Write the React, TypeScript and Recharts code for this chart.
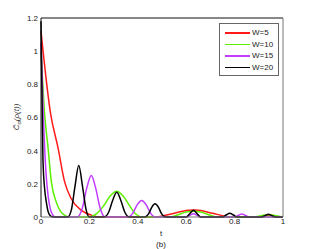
import { Line, LineChart, XAxis, YAxis } from 'recharts'

// ---- data (t, C value) ----
const xTicks = [0, 0.2, 0.4, 0.6, 0.8, 1]
const yTicks = [0, 0.2, 0.4, 0.6, 0.8, 1, 1.2]

const w5 = [
  { t: 0, v: 1.12 }, { t: 0.04, v: 0.62 }, { t: 0.07, v: 0.42 }, { t: 0.098, v: 0.21 },
  { t: 0.125, v: 0.11 }, { t: 0.167, v: 0.04 }, { t: 0.21, v: 0.01 }, { t: 0.25, v: 0 },
  { t: 0.48, v: 0 }, { t: 0.52, v: 0.012 }, { t: 0.61, v: 0.04 }, { t: 0.64, v: 0.042 },
  { t: 0.71, v: 0.022 }, { t: 0.75, v: 0.008 }, { t: 0.78, v: 0 }, { t: 0.9, v: 0 },
  { t: 0.94, v: 0.01 }, { t: 0.98, v: 0 }, { t: 1, v: 0 },
]

const w10 = [
  { t: 0, v: 1.0 }, { t: 0.015, v: 0.62 }, { t: 0.029, v: 0.42 }, { t: 0.043, v: 0.21 },
  { t: 0.063, v: 0.09 }, { t: 0.08, v: 0.035 }, { t: 0.1, v: 0.008 }, { t: 0.12, v: 0 },
  { t: 0.2, v: 0 }, { t: 0.23, v: 0.02 }, { t: 0.26, v: 0.07 }, { t: 0.285, v: 0.125 },
  { t: 0.313, v: 0.155 }, { t: 0.34, v: 0.125 }, { t: 0.365, v: 0.07 }, { t: 0.39, v: 0.02 },
  { t: 0.42, v: 0 }, { t: 0.53, v: 0 }, { t: 0.56, v: 0.01 }, { t: 0.6, v: 0.03 },
  { t: 0.63, v: 0.035 }, { t: 0.66, v: 0.03 }, { t: 0.7, v: 0.01 }, { t: 0.73, v: 0 },
  { t: 0.88, v: 0 }, { t: 0.91, v: 0.008 }, { t: 0.94, v: 0.014 }, { t: 0.97, v: 0.008 },
  { t: 1, v: 0 },
]

const w15 = [
  { t: 0, v: 1.05 }, { t: 0.01, v: 0.6 }, { t: 0.02, v: 0.28 }, { t: 0.03, v: 0.12 },
  { t: 0.04, v: 0.04 }, { t: 0.05, v: 0.01 }, { t: 0.06, v: 0 }, { t: 0.15, v: 0 },
  { t: 0.17, v: 0.05 }, { t: 0.19, v: 0.18 }, { t: 0.208, v: 0.25 }, { t: 0.225, v: 0.18 },
  { t: 0.245, v: 0.05 }, { t: 0.265, v: 0 }, { t: 0.36, v: 0 }, { t: 0.38, v: 0.025 },
  { t: 0.398, v: 0.075 }, { t: 0.416, v: 0.1 }, { t: 0.434, v: 0.075 }, { t: 0.452, v: 0.025 },
  { t: 0.47, v: 0 }, { t: 0.6, v: 0 }, { t: 0.615, v: 0.01 }, { t: 0.63, v: 0.02 },
  { t: 0.645, v: 0.01 }, { t: 0.66, v: 0 }, { t: 0.8, v: 0 }, { t: 0.83, v: 0.018 },
  { t: 0.86, v: 0 }, { t: 1, v: 0 },
]

const w20 = [
  { t: 0, v: 1.18 }, { t: 0.004, v: 0.75 }, { t: 0.008, v: 0.35 }, { t: 0.015, v: 0.17 },
  { t: 0.022, v: 0.09 }, { t: 0.03, v: 0.03 }, { t: 0.04, v: 0.005 }, { t: 0.05, v: 0 },
  { t: 0.11, v: 0 }, { t: 0.125, v: 0.04 }, { t: 0.14, v: 0.18 }, { t: 0.156, v: 0.31 },
  { t: 0.172, v: 0.18 }, { t: 0.187, v: 0.04 }, { t: 0.2, v: 0 }, { t: 0.26, v: 0 },
  { t: 0.28, v: 0.03 }, { t: 0.296, v: 0.1 }, { t: 0.313, v: 0.15 }, { t: 0.33, v: 0.1 },
  { t: 0.346, v: 0.03 }, { t: 0.365, v: 0 }, { t: 0.43, v: 0 }, { t: 0.445, v: 0.02 },
  { t: 0.458, v: 0.06 }, { t: 0.471, v: 0.08 }, { t: 0.485, v: 0.06 }, { t: 0.498, v: 0.02 },
  { t: 0.515, v: 0 }, { t: 0.6, v: 0 }, { t: 0.615, v: 0.02 }, { t: 0.63, v: 0.04 },
  { t: 0.645, v: 0.02 }, { t: 0.66, v: 0 }, { t: 0.75, v: 0 }, { t: 0.765, v: 0.012 },
  { t: 0.78, v: 0.022 }, { t: 0.795, v: 0.012 }, { t: 0.81, v: 0 }, { t: 0.91, v: 0 },
  { t: 0.925, v: 0.008 }, { t: 0.94, v: 0.016 }, { t: 0.955, v: 0.008 }, { t: 0.97, v: 0 },
  { t: 1, v: 0 },
]

const SERIES = [
  { name: 'W=5', data: w5, color: '#ff1a1a' },
  { name: 'W=10', data: w10, color: '#5cf000' },
  { name: 'W=15', data: w15, color: '#c03cff' },
  { name: 'W=20', data: w20, color: '#000000' },
]

const FONT = 'Arial, "Liberation Sans", Helvetica, sans-serif'
const TICK = { fontSize: 8, fill: '#222', fontFamily: FONT }
const fmt = (v: number) => String(v)

// MATLAB-style legend box, placed over the plot's top-right corner
function LegendBox() {
  return (
    <div style={{ position: 'absolute', left: 219, top: 23, width: 53, border: '1px solid #666',
      background: '#fff', padding: '3px 0 2px 5px' }}>
      {SERIES.map((s) => (
        <div key={s.name} style={{ display: 'flex', alignItems: 'center', height: 11.5, fontSize: 8, fontFamily: FONT, color: '#222' }}>
          <span style={{ width: 25, height: 1.5, background: s.color, marginRight: 2 }} />
          <span>{s.name}</span>
        </div>
      ))}
    </div>
  )
}

export default function App() {
  return (
    <div style={{ position: 'absolute', left: 0, top: 0, width: 312, height: 249, background: '#fff' }}>
      <LineChart width={312} height={249} margin={{ top: 18, right: 29, left: 0, bottom: 12 }}>
        {/* labelled axes outside, tick marks drawn inward by mirrored copies */}
        <XAxis xAxisId={0} type="number" dataKey="t" domain={[0, 1]} ticks={xTicks} tickFormatter={fmt}
          axisLine={false} tickLine={false} tickSize={0} tickMargin={1} height={20} tick={TICK} />
        <XAxis xAxisId="bt" type="number" dataKey="t" domain={[0, 1]} ticks={xTicks} orientation="bottom" mirror
          tick={false} tickSize={3} axisLine={{ stroke: '#777' }} tickLine={{ stroke: '#777' }} allowDataOverflow />
        <XAxis xAxisId="top" type="number" dataKey="t" domain={[0, 1]} ticks={xTicks} orientation="top" mirror
          tick={false} tickSize={3} axisLine={{ stroke: '#111' }} tickLine={{ stroke: '#999' }} allowDataOverflow />
        <YAxis yAxisId={0} type="number" domain={[0, 1.2]} ticks={yTicks} tickFormatter={fmt} width={41}
          axisLine={{ stroke: '#111' }} tickLine={false} tickSize={0} tickMargin={3} tick={TICK} />
        <YAxis yAxisId="rt" type="number" domain={[0, 1.2]} ticks={yTicks} orientation="right" mirror
          tick={false} tickSize={3} axisLine={{ stroke: '#777' }} tickLine={{ stroke: '#777' }} allowDataOverflow />
        {SERIES.map((s) => (
          <Line key={s.name} data={s.data} dataKey="v" name={s.name} type="monotone" stroke={s.color}
            strokeWidth={1.5} dot={false} isAnimationActive={false} />
        ))}
      </LineChart>
      <LegendBox />
      <div style={{ position: 'absolute', left: 17, top: 117, transform: 'translate(-50%, -50%) rotate(-90deg)',
        fontSize: 8, fontFamily: FONT, fontStyle: 'italic', color: '#333', whiteSpace: 'nowrap' }}>
        C&#771;<sub style={{ fontSize: 6 }}>α</sub>(ρ(t))
      </div>
      <div style={{ position: 'absolute', left: 161, top: 233, transform: 'translate(-50%, -50%)',
        fontSize: 8, fontFamily: FONT, color: '#222' }}>t</div>
      <div style={{ position: 'absolute', left: 161, top: 244, transform: 'translate(-50%, -50%)',
        fontSize: 8, fontFamily: FONT, color: '#222' }}>(b)</div>
    </div>
  )
}
